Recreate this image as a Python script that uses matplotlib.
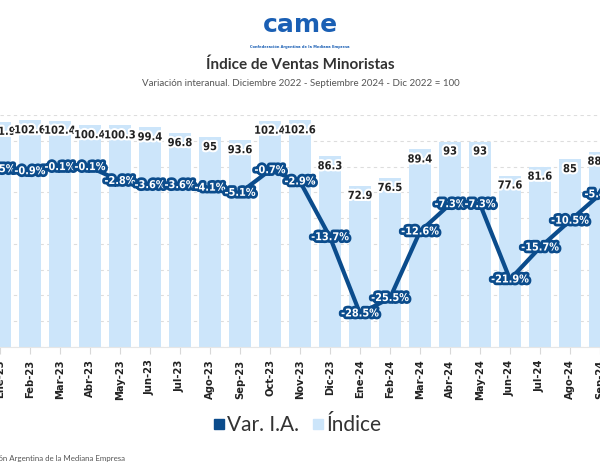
import matplotlib
matplotlib.use("Agg")
import matplotlib.pyplot as plt
import matplotlib.patheffects as pe
from matplotlib.lines import Line2D

months = ["Ene-23", "Feb-23", "Mar-23", "Abr-23", "May-23", "Jun-23", "Jul-23",
          "Ago-23", "Sep-23", "Oct-23", "Nov-23", "Dic-23", "Ene-24", "Feb-24",
          "Mar-24", "Abr-24", "May-24", "Jun-24", "Jul-24", "Ago-24", "Sep-24"]
indice = [101.9, 102.6, 102.4, 100.4, 100.3, 99.4, 96.8, 95, 93.6, 102.4, 102.6,
          86.3, 72.9, 76.5, 89.4, 93, 93, 77.6, 81.6, 85, 88.4]
var_ia = [-0.5, -0.9, -0.1, -0.1, -2.8, -3.6, -3.6, -4.1, -5.1, -0.7, -2.9,
          -13.7, -28.5, -25.5, -12.6, -7.3, -7.3, -21.9, -15.7, -10.5, -5.4]

BAR = "#cce5fa"
LINE = "#0b4c8c"
x = list(range(len(months)))
cond = dict(family="DejaVu Sans", stretch="condensed", fontweight="bold")

fig = plt.figure(figsize=(6, 4.74), dpi=100)
ax = fig.add_axes([0, 1 - 347 / 474, 1, (347 - 115) / 474])
ax.bar(x, indice, width=0.75, color=BAR, zorder=2)
ax.set_ylim(0, 105)
ax.set_xlim(0.213, 19.885)
ax.set_yticks([i * 105 / 9 for i in range(10)])
ax.set_yticklabels([])
ax.tick_params(axis="y", length=0)
ax.grid(axis="y", color="#dddddd", linestyle=(0, (3, 3)), linewidth=0.8, zorder=0)
ax.set_axisbelow(True)
for s in ["top", "right", "left"]:
    ax.spines[s].set_visible(False)
ax.spines["bottom"].set_color("#e6e6e6")
ax.set_xticks(x)
ax.set_xticklabels(months, rotation=90, fontsize=8, color="#222222", **cond)
ax.tick_params(axis="x", length=5, color="#d8d8d8", pad=4)

for xi, v in zip(x, indice):
    ax.annotate(f"{v:g}", (xi, v), xytext=(0, -10), textcoords="offset pixels",
                ha="center", va="center", fontsize=8, color="#222222",
                path_effects=[pe.withStroke(linewidth=3, foreground="white")], zorder=5, **cond)

ax2 = ax.twinx()
ax2.set_ylim(-35, 10)
ax2.set_yticks([])
for s in ax2.spines.values():
    s.set_visible(False)
ax2.plot(x, var_ia, color=LINE, linewidth=3, zorder=3, solid_capstyle="round")
for xi, v in zip(x, var_ia):
    ax2.annotate(f"{v:.1f}%", (xi, v), ha="center", va="center", fontsize=7.8,
                 color="white", path_effects=[pe.withStroke(linewidth=4, foreground=LINE)],
                 zorder=6, **cond)

# header
fig.text(0.5, 1 - 25 / 474, "came", ha="center", va="center", fontsize=18,
         fontweight="bold", color="#1a5fb4")
fig.text(0.5, 1 - 47 / 474, "Confederación Argentina de la Mediana Empresa", ha="center",
         va="center", fontsize=2.6, color="#1a5fb4", fontweight="bold")
fig.text(0.5, 1 - 65 / 474, "Índice de Ventas Minoristas", ha="center", va="center",
         fontsize=11, fontweight="bold", color="#333333", family="Lato")
fig.text(0.502, 1 - 83 / 474,
         "Variación interanual. Diciembre 2022 - Septiembre 2024 - Dic 2022 = 100",
         ha="center", va="center", fontsize=7, color="#555555", family="Lato")

handles = [Line2D([], [], marker="s", linestyle="", markersize=7, color=LINE),
           Line2D([], [], marker="s", linestyle="", markersize=7, color=BAR)]
fig.legend(handles, ["Var. I.A.", "Índice"], loc="center", bbox_to_anchor=(0.493, 1 - 425 / 474),
           ncol=2, frameon=False, handletextpad=0.0, columnspacing=0.5, handlelength=0.8,
           prop={"family": "Lato", "size": 15}, labelcolor="#333333")

fig.text(125 / 600, 1 - 458 / 474, "Fuente: Confederación Argentina de la Mediana Empresa",
         ha="right", va="center", fontsize=5.7, color="#555555", family="Lato")

fig.savefig("out.png", dpi=100)
